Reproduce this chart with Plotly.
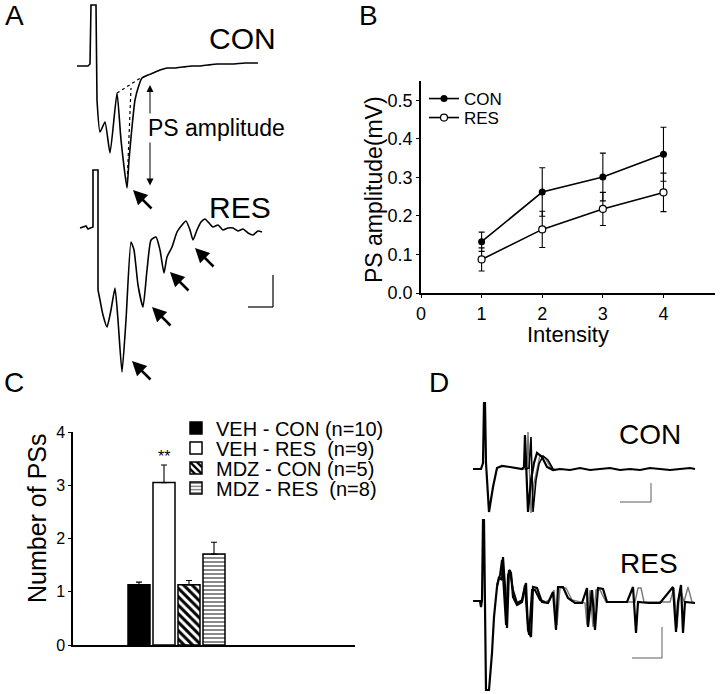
import plotly.graph_objects as go

W, H = 720, 694
FONT = "Liberation Sans, Arial, Helvetica, sans-serif"


def px(x):
    return x / W


def py(y):
    return 1 - y / H


# ---------------- Panel B data ----------------
intensity = [1, 2, 3, 4]
con_amp = [0.133, 0.262, 0.301, 0.360]
con_err = [0.025, 0.063, 0.062, 0.070]
res_amp = [0.087, 0.165, 0.218, 0.261]
res_err = [0.030, 0.047, 0.043, 0.050]
b_yticks = [0.0, 0.1, 0.2, 0.3, 0.4, 0.5]
b_xticks = [0, 1, 2, 3, 4]

# ---------------- Panel C data ----------------
groups = ["VEH - CON", "VEH - RES", "MDZ - CON", "MDZ - RES"]
group_n = [10, 9, 5, 8]
ps_count = [1.13, 3.05, 1.13, 1.71]
ps_sem = [0.05, 0.33, 0.08, 0.22]
c_yticks = [0, 1, 2, 3, 4]

# ---------------- Panel A traces (time, deflection) ----------------
a_con_t = [77, 88, 90, 91, 96, 97, 100, 105, 110, 117, 121, 127, 129, 132, 135, 139, 142,
           148, 153, 160, 167, 175, 183, 192, 200, 208, 217, 225, 233, 245, 258]
a_con_v = [66, 66, 64, 5, 5, 100, 132, 122, 153, 93, 140, 188, 160, 127, 100, 85, 78,
           75, 73, 70, 68, 68, 67, 66, 66, 65, 64, 64, 64, 63, 63]
a_con_stim_end = 6          # samples belonging to the stimulus artefact
a_tangent_t = [117, 142]
a_tangent_v = [93, 77]
a_drop_t = [127, 131]
a_drop_v = [186, 88]

a_res_t = [80, 86, 88, 91, 93, 93, 98, 98, 100, 103, 107, 111, 115, 118, 122, 126, 131,
           134, 138, 143, 147, 151, 156, 160, 164, 167, 172, 177, 182, 186, 190, 193, 197,
           201, 205, 209, 213, 218, 223, 228, 233, 238, 243, 248, 253, 258, 262]
a_res_v = [228, 226, 229, 228, 227, 170, 170, 290, 300, 315, 327, 310, 288, 320, 372, 320, 242,
           250, 285, 307, 270, 240, 237, 250, 273, 257, 247, 232, 225, 221, 230, 240, 230,
           222, 219, 223, 227, 225, 230, 228, 228, 231, 229, 233, 235, 231, 232]
a_res_stim_end = 8

# PS marked by arrows in A (trough positions)
a_ps_t = [133, 132, 152, 170, 195]
a_ps_v = [190, 361, 307, 272, 248]

# ---------------- Panel D traces ----------------
d_con1_t = [473, 481, 483, 484, 485, 486, 489, 493, 497, 502, 510, 517, 522, 524, 525, 528, 531,
            534, 537, 542, 547, 553, 560, 570, 580, 590, 600, 610, 620, 630, 640, 650, 660,
            670, 680, 690, 695]
d_con1_v = [469, 469, 463, 403, 403, 463, 512, 487, 468, 466, 467, 468, 469, 467, 435, 512, 480,
            463, 453, 457, 467, 470, 469, 470, 468, 470, 469, 468, 470, 469, 470, 468, 469,
            470, 469, 468, 469]
d_con2_t = [522, 527, 528, 531, 534, 537, 540, 545, 551, 556]
d_con2_v = [469, 469, 432, 513, 483, 467, 455, 458, 468, 470]
d_con3_t = [525, 529, 531, 533, 536, 539, 543, 548, 553]
d_con3_v = [469, 468, 437, 512, 480, 464, 456, 460, 469]

d_res1_t = [473, 480, 481, 482, 483, 484, 486, 489, 492, 494, 497, 499, 502, 503, 505, 507, 509,
            511, 513, 517, 522, 526, 528, 531, 533, 537, 542, 548, 553, 556, 558, 563, 568,
            575, 582, 587, 588, 592, 595, 598, 603, 607, 617, 627, 633, 636, 638, 649, 660,
            673, 676, 678, 681, 683, 685, 695]
d_res1_v = [601, 601, 607, 600, 520, 520, 690, 690, 653, 617, 587, 577, 580, 557, 587, 628, 570,
            573, 597, 605, 602, 583, 630, 637, 587, 588, 602, 603, 592, 630, 587, 587, 598,
            603, 603, 588, 627, 590, 630, 588, 589, 602, 602, 602, 587, 633, 602, 603, 603,
            587, 632, 602, 585, 633, 602, 603]
d_res2_t = [497, 500, 502, 504, 506, 508, 510, 513, 517, 522, 525, 527, 529, 532, 535, 540, 545]
d_res2_v = [585, 575, 560, 600, 625, 575, 570, 590, 603, 600, 585, 615, 635, 590, 590, 600, 602]
d_res3_t = [545, 550, 554, 557, 560, 566, 572, 580, 585, 587, 590, 593, 596, 600, 606, 620,
            635, 638, 641, 644, 648, 660, 670, 674, 677, 680, 684, 688, 692, 695]
d_res3_v = [602, 600, 590, 625, 588, 588, 600, 602, 603, 625, 590, 627, 590, 590, 602, 602,
            602, 588, 588, 602, 602, 602, 602, 588, 628, 588, 602, 587, 602, 603]

fig = go.Figure()

# ---------- B ----------
fig.add_trace(go.Scatter(
    x=intensity, y=con_amp, name="CON", mode="lines+markers",
    error_y=dict(type="data", array=con_err, color="black", thickness=1.1, width=3),
    line=dict(color="black", width=1.6),
    marker=dict(symbol="circle", size=7, color="black"),
    xaxis="x", yaxis="y", legend="legend"))
fig.add_trace(go.Scatter(
    x=intensity, y=res_amp, name="RES", mode="lines+markers",
    error_y=dict(type="data", array=res_err, color="black", thickness=1.1, width=3),
    line=dict(color="black", width=1.6),
    marker=dict(symbol="circle", size=7, color="white", line=dict(color="black", width=1.2)),
    xaxis="x", yaxis="y", legend="legend2"))

# ---------- C ----------
bar_styles = [
    dict(color="black", line=dict(color="black", width=1.5)),
    dict(color="white", line=dict(color="black", width=1.5)),
    dict(color="white", line=dict(color="black", width=1.5),
         pattern=dict(shape="\\", fgcolor="black", size=6, solidity=0.5)),
    dict(color="white", line=dict(color="black", width=1.5),
         pattern=dict(shape="-", fgcolor="#555555", size=4, solidity=0.35)),
]
pads = ["\u00a0", "\u00a0\u00a0", "\u00a0", "\u00a0\u00a0"]
for i, g in enumerate(groups):
    fig.add_trace(go.Bar(
        x=[0], y=[ps_count[i]], name=f"{g}{pads[i]}(n={group_n[i]})",
        marker=bar_styles[i],
        error_y=dict(type="data", array=[ps_sem[i]], arrayminus=[0], symmetric=False,
                     color="black", thickness=1.1, width=3),
        xaxis="x2", yaxis="y2", legend=f"legend{i + 3}"))

# ---------- A & D traces (overlay axis) ----------
def trace(t, v, color="black", width=1.6, dash="solid", shape="linear"):
    line = dict(color=color, width=width, dash=dash, shape=shape)
    if shape == "spline":
        line["smoothing"] = 0.5
    fig.add_trace(go.Scatter(x=t, y=v, mode="lines", line=line,
                             xaxis="x3", yaxis="y3", showlegend=False, hoverinfo="skip"))

# stimulus artefacts drawn sharp, responses smoothed
trace(a_con_t[:a_con_stim_end], a_con_v[:a_con_stim_end], width=1.6)
trace(a_con_t[a_con_stim_end - 1:], a_con_v[a_con_stim_end - 1:], width=1.6, shape="spline")
trace(a_tangent_t, a_tangent_v, width=1.2, dash="dot")
trace(a_drop_t, a_drop_v, width=1.2, dash="dot")
trace(a_res_t[:a_res_stim_end], a_res_v[:a_res_stim_end], width=1.6)
trace(a_res_t[a_res_stim_end - 1:], a_res_v[a_res_stim_end - 1:], width=1.6, shape="spline")
trace(d_con2_t, d_con2_v, color="#777777", width=1.4)
trace(d_con3_t, d_con3_v, color="black", width=1.6)
trace(d_con1_t, d_con1_v, color="black", width=2.2)
trace(d_res3_t, d_res3_v, color="#777777", width=1.4)
trace(d_res2_t, d_res2_v, color="black", width=2.0)
trace(d_res1_t, d_res1_v, color="black", width=2.2)

axis_common = dict(showgrid=False, zeroline=False, showline=True, linecolor="black",
                   tickcolor="black", automargin=False,
                   tickfont=dict(family=FONT, size=18, color="black"))

layout = dict(
    template="none",
    width=W, height=H, margin=dict(l=0, r=0, t=0, b=0, pad=0, autoexpand=False),
    paper_bgcolor="white", plot_bgcolor="rgba(0,0,0,0)",
    font=dict(family=FONT, color="black"),
    barmode="group", bargap=0.5, bargroupgap=0.12,
    xaxis=dict(domain=[px(421), px(715)], range=[0, 4.85], anchor="y",
               tickvals=b_xticks, ticks="outside", ticklen=3, linewidth=2, **axis_common),
    yaxis=dict(domain=[py(293), py(81)], range=[0, 0.55], anchor="x",
               tickvals=b_yticks, tickformat=".1f", ticks="outside", ticklen=3,
               linewidth=1.5, **axis_common),
    xaxis2=dict(domain=[px(73), px(355)], range=[-0.5175, 0.8925], anchor="y2",
                showticklabels=False, ticks="", linewidth=2,
                **{k: v for k, v in axis_common.items() if k != "tickfont"}),
    yaxis2=dict(domain=[py(645), py(432)], range=[0, 4], anchor="x2",
                tickvals=c_yticks, ticks="outside", ticklen=3, linewidth=1.5,
                **{**axis_common, "tickfont": dict(family=FONT, size=16, color="black")}),
    xaxis3=dict(domain=[0, 1], range=[0, W], visible=False, anchor="y3", automargin=False),
    yaxis3=dict(domain=[0, 1], range=[H, 0], visible=False, anchor="x3", automargin=False),
)

leg_common = dict(bgcolor="rgba(0,0,0,0)", borderwidth=0, xanchor="left", yanchor="middle",
                  tracegroupgap=0, itemwidth=30)
layout["legend"] = dict(x=px(424), y=py(99), font=dict(family=FONT, size=17), **leg_common)
layout["legend2"] = dict(x=px(424), y=py(118), font=dict(family=FONT, size=17), **leg_common)
for i, yc in enumerate([428, 448, 468, 488]):
    layout[f"legend{i + 3}"] = dict(x=px(176), y=py(yc), font=dict(family=FONT, size=20),
                                    **leg_common)
fig.update_layout(**layout)

# ---------- text annotations ----------
def text(x, y, s, size, angle=0, xanchor="center", **kw):
    fig.add_annotation(x=px(x), y=py(y), xref="paper", yref="paper", text=s, showarrow=False,
                       font=dict(family=FONT, size=size, color="black"), textangle=angle,
                       xanchor=xanchor, yanchor="middle", **kw)

text(14, 15, "A", 28)
text(368, 15, "B", 28)
text(14, 382, "C", 28)
text(439, 382, "D", 28)
text(242, 39, "CON", 30)
text(240, 208, "RES", 30)
text(650, 434, "CON", 28)
text(649, 563, "RES", 28)
text(374, 190, "PS amplitude(mV)", 23, angle=-90)
text(568, 334, "Intensity", 22)
text(37, 518, "Number of PSs", 25, angle=-90)

# ** over VEH-RES bar
fig.add_annotation(x=-0.0625, y=ps_count[1] + ps_sem[1], xref="x2", yref="y2", text="**",
                   showarrow=False, yanchor="bottom", yshift=-2,
                   font=dict(family=FONT, size=16, color="black"))

# PS amplitude double arrow
fig.add_annotation(x=150, y=85, ax=150, ay=187, xref="x3", yref="y3", axref="x3", ayref="y3",
                   text="", showarrow=True, arrowhead=2, startarrowhead=2, arrowside="end+start",
                   arrowsize=1.4, startarrowsize=1.4, arrowwidth=1, arrowcolor="black")
text(146, 128, "PS amplitude", 23, xanchor="left", bgcolor="white")

# PS arrows
for t, v in zip(a_ps_t, a_ps_v):
    fig.add_annotation(x=t, y=v, ax=t + 20, ay=v + 20, xref="x3", yref="y3", axref="x3",
                       ayref="y3", text="", showarrow=True, arrowhead=2, arrowsize=1.1,
                       arrowwidth=2.6, arrowcolor="black")

# scale bars
def sbar(x0, y0, x1, y1, color):
    fig.add_shape(type="line", x0=x0, y0=y0, x1=x1, y1=y1, xref="x3", yref="y3",
                  line=dict(color=color, width=1.2))

sbar(248, 307, 273, 307, "black")
sbar(273, 307, 273, 275, "black")
sbar(620, 502, 651, 502, "#777777")
sbar(651, 502, 651, 483, "#777777")
sbar(632, 658, 662, 658, "#777777")
sbar(662, 658, 662, 627, "#777777")

fig.write_html(
    "out.html",
    config={"displayModeBar": False},
    post_script="document.body.style.margin='0px';document.body.style.overflow='hidden';",
)
